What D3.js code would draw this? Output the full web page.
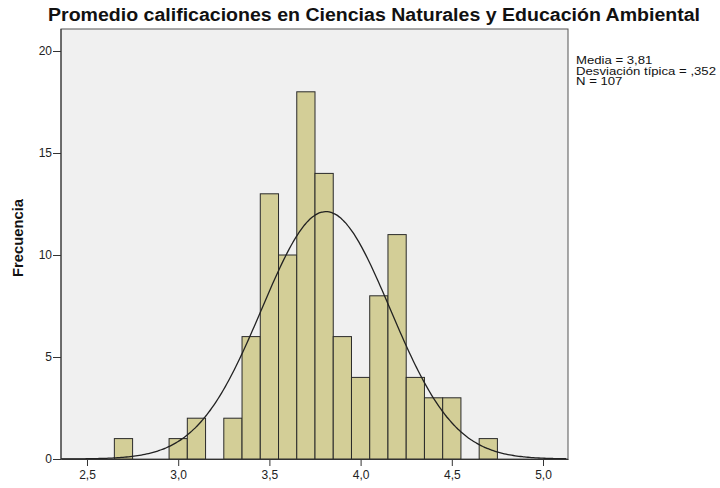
<!DOCTYPE html>
<html><head><meta charset="utf-8">
<script src="https://cdn.jsdelivr.net/npm/d3@7"></script>
<style>body{margin:0;background:#fff}svg{display:block;font-family:Arial,"Liberation Sans",sans-serif}</style>
</head><body><svg id="c" width="720" height="488"></svg>
<script>
const binCenters = [2.7,2.8,2.9,3.0,3.1,3.2,3.3,3.4,3.5,3.6,3.7,3.8,3.9,4.0,4.1,4.2,4.3,4.4,4.5,4.6,4.7];
const counts     = [1,  0,  0,  1,  2,  0,  2,  6,  13, 10, 18, 14, 6,  4,  8,  11, 4,  3,  3,  0,  1];
const binWidth = 0.1;
const mean = 3.81, sd = 0.352, N = 107;
const xTicks = [2.5,3.0,3.5,4.0,4.5,5.0];
const yTicks = [0,5,10,15,20];
const title = "Promedio calificaciones en Ciencias Naturales y Educación Ambiental";
const legendLines = ["Media = 3,81","Desviación típica = ,352","N = 107"];

const svg = d3.select("#c");
const L=61,R=568,T=29,B=459;
const x = d3.scaleLinear().domain([2.3575,5.137]).range([L,R]);
const y = d3.scaleLinear().domain([0,20]).range([B,51]);
const fmt = d => d3.format(".1f")(d).replace(".",",");

svg.append("rect").attr("x",L).attr("y",T).attr("width",R-L).attr("height",B-T).attr("fill","#f0f0f0").attr("stroke","#555").attr("stroke-width",1);

svg.append("g").selectAll("rect").data(binCenters.map((c,i)=>({c,v:counts[i]})).filter(d=>d.v>0))
 .join("rect")
 .attr("x",d=>x(d.c-binWidth/2)).attr("width",d=>x(d.c+binWidth/2)-x(d.c-binWidth/2))
 .attr("y",d=>y(d.v)).attr("height",d=>y(0)-y(d.v))
 .attr("fill","#d3ce97").attr("stroke","#2a2a2a").attr("stroke-width",1);

const pts = d3.range(x.domain()[0], x.domain()[1], 0.01).map(v=>[v, N*binWidth*Math.exp(-0.5*((v-mean)/sd)**2)/(sd*Math.sqrt(2*Math.PI))]);
svg.append("path").datum(pts).attr("fill","none").attr("stroke","#222").attr("stroke-width",1.3)
 .attr("d",d3.line().x(d=>x(d[0])).y(d=>y(d[1])).curve(d3.curveBasis));

const xa = svg.append("g").attr("transform",`translate(0,${B})`)
 .call(d3.axisBottom(x).tickValues(xTicks).tickFormat(fmt).tickSize(7).tickSizeOuter(0));
xa.select(".domain").attr("stroke","#333");
xa.selectAll("line").attr("stroke","#333");
xa.selectAll("text").attr("font-size",12).attr("fill","#222").attr("font-family","Arial,'Liberation Sans',sans-serif").attr("y",20).attr("dy",0);

const ya = svg.append("g").attr("transform",`translate(${L},0)`)
 .call(d3.axisLeft(y).tickValues(yTicks).tickSize(8).tickSizeOuter(0));
ya.select(".domain").remove();
ya.selectAll("line").attr("stroke","#333");
ya.selectAll("text").attr("font-size",12).attr("fill","#222").attr("font-family","Arial,'Liberation Sans',sans-serif").attr("x",-9);
svg.append("line").attr("x1",L).attr("x2",L).attr("y1",T).attr("y2",B).attr("stroke","#333");

svg.append("text").attr("x",48).attr("y",21).attr("font-size",18).attr("font-weight","bold").attr("fill","#111")
 .attr("textLength",652).attr("lengthAdjust","spacingAndGlyphs").text(title);
svg.append("text").attr("transform",`translate(23,${238}) rotate(-90)`).attr("text-anchor","middle").attr("font-size",14).attr("font-weight","bold").attr("fill","#111")
 .attr("textLength",78).attr("lengthAdjust","spacingAndGlyphs").text("Frecuencia");

const lg = svg.append("g").selectAll("text").data(legendLines).join("text")
 .attr("x",576).attr("y",(d,i)=>64+i*10.5).attr("font-size",11.5).attr("fill","#111").text(d=>d);
const w2 = lg.nodes()[1].getComputedTextLength();
const k = 140 / w2;
lg.each(function(){ const w=this.getComputedTextLength(); d3.select(this).attr("textLength",w*k).attr("lengthAdjust","spacingAndGlyphs"); });
</script></body></html>
